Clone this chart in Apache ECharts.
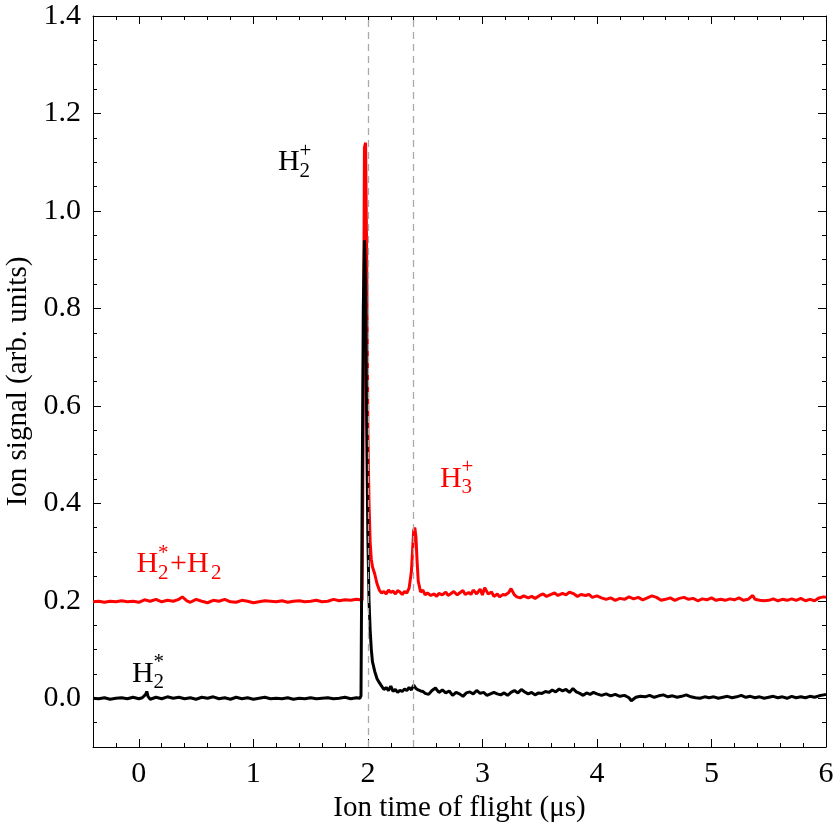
<!DOCTYPE html>
<html>
<head>
<meta charset="utf-8">
<script src="https://cdn.jsdelivr.net/npm/echarts@6/dist/echarts.min.js"></script>
<style>
  html, body { margin: 0; padding: 0; background: #fff; }
  #chart { width: 834px; height: 834px; }
</style>
</head>
<body>
<div id="chart"></div>
<script>
// tick positions
var xMajor = [0, 1, 2, 3, 4, 5, 6];
var xMinor = [-0.2, 0.2, 0.4, 0.6, 0.8, 1.2, 1.4, 1.6, 1.8, 2.2, 2.4, 2.6, 2.8, 3.2, 3.4, 3.6, 3.8,
  4.2, 4.4, 4.6, 4.8, 5.2, 5.4, 5.6, 5.8];
var yMajor = [0, 0.2, 0.4, 0.6, 0.8, 1.0, 1.2, 1.4];
var yMinor = [-0.05, 0.05, 0.1, 0.15, 0.25, 0.3, 0.35, 0.45, 0.5, 0.55, 0.65, 0.7, 0.75,
  0.85, 0.9, 0.95, 1.05, 1.1, 1.15, 1.25, 1.3, 1.35];
// dashed marker positions (us)
var markerT = [2.0, 2.4];

// H2* + H2 trace (red)
var redT = [-0.40, -0.35, -0.30, -0.25, -0.20, -0.15, -0.10, -0.05, 0.00, 0.05, 0.10, 0.15, 0.20, 0.25, 0.30,
  0.35, 0.38, 0.42, 0.45, 0.50, 0.55, 0.60, 0.65, 0.70, 0.75, 0.80, 0.85, 0.90, 0.95, 1.00, 1.05, 1.10,
  1.15, 1.20, 1.25, 1.30, 1.35, 1.40, 1.45, 1.50, 1.55, 1.60, 1.65, 1.70, 1.75, 1.80, 1.85, 1.90, 1.93,
  1.95, 1.96, 1.97, 1.98, 1.99, 2.00, 2.01, 2.02, 2.03, 2.04, 2.06, 2.08, 2.10, 2.12, 2.14, 2.16, 2.18,
  2.20, 2.22, 2.24, 2.26, 2.28, 2.30, 2.32, 2.34, 2.36, 2.38, 2.40, 2.41, 2.42, 2.43, 2.44, 2.46, 2.48,
  2.50, 2.52, 2.55, 2.58, 2.60, 2.62, 2.65, 2.68, 2.70, 2.72, 2.75, 2.78, 2.80, 2.83, 2.85, 2.88, 2.90,
  2.92, 2.95, 2.98, 3.00, 3.02, 3.05, 3.08, 3.10, 3.13, 3.15, 3.18, 3.20, 3.23, 3.25, 3.28, 3.30, 3.33,
  3.36, 3.40, 3.43, 3.46, 3.50, 3.53, 3.56, 3.60, 3.63, 3.66, 3.70, 3.73, 3.76, 3.80, 3.83, 3.86, 3.90,
  3.93, 3.96, 4.00, 4.04, 4.08, 4.12, 4.16, 4.20, 4.24, 4.28, 4.32, 4.36, 4.40, 4.44, 4.48, 4.52, 4.56,
  4.60, 4.64, 4.68, 4.72, 4.76, 4.80, 4.84, 4.88, 4.92, 4.96, 5.00, 5.04, 5.08, 5.12, 5.16, 5.20, 5.24,
  5.28, 5.32, 5.36, 5.38, 5.42, 5.46, 5.50, 5.54, 5.58, 5.62, 5.66, 5.70, 5.74, 5.78, 5.82, 5.86, 5.90,
  5.94, 5.98, 6.00];
var redY = [0.198, 0.199, 0.197, 0.199, 0.198, 0.200, 0.198, 0.199, 0.197, 0.202, 0.199, 0.203, 0.198, 0.201, 0.199,
  0.203, 0.208, 0.200, 0.197, 0.203, 0.199, 0.196, 0.201, 0.199, 0.203, 0.198, 0.197, 0.201, 0.199, 0.196, 0.198, 0.200,
  0.199, 0.198, 0.200, 0.197, 0.199, 0.200, 0.198, 0.199, 0.201, 0.198, 0.199, 0.203, 0.200, 0.202, 0.201, 0.203, 0.202,
  0.201, 0.600, 1.130, 1.140, 0.900, 0.550, 0.400, 0.320, 0.285, 0.270, 0.255, 0.235, 0.222, 0.216, 0.219, 0.214, 0.222,
  0.217, 0.220, 0.214, 0.221, 0.218, 0.213, 0.219, 0.216, 0.226, 0.260, 0.345, 0.350, 0.330, 0.280, 0.240, 0.218, 0.222,
  0.212, 0.216, 0.211, 0.214, 0.209, 0.215, 0.212, 0.218, 0.211, 0.214, 0.219, 0.212, 0.216, 0.221, 0.213, 0.217, 0.213,
  0.222, 0.214, 0.224, 0.212, 0.227, 0.214, 0.218, 0.209, 0.214, 0.208, 0.213, 0.212, 0.217, 0.225, 0.212, 0.208, 0.206,
  0.210, 0.206, 0.209, 0.205, 0.211, 0.214, 0.209, 0.213, 0.216, 0.211, 0.215, 0.212, 0.218, 0.214, 0.209, 0.213, 0.211,
  0.213, 0.207, 0.210, 0.206, 0.203, 0.206, 0.201, 0.205, 0.203, 0.208, 0.204, 0.207, 0.202, 0.206, 0.210, 0.207, 0.201,
  0.203, 0.206, 0.201, 0.205, 0.207, 0.203, 0.205, 0.200, 0.204, 0.202, 0.206, 0.201, 0.203, 0.201, 0.204, 0.202, 0.206,
  0.201, 0.203, 0.211, 0.203, 0.201, 0.200, 0.201, 0.204, 0.200, 0.203, 0.201, 0.204, 0.201, 0.205, 0.200, 0.203, 0.200,
  0.206, 0.208, 0.207];

// H2* trace (black)
var blackT = [-0.40, -0.35, -0.30, -0.25, -0.20, -0.15, -0.10, -0.05, 0.00, 0.03, 0.06, 0.07, 0.08, 0.10, 0.15,
  0.20, 0.25, 0.30, 0.35, 0.40, 0.45, 0.50, 0.55, 0.60, 0.65, 0.70, 0.75, 0.80, 0.85, 0.90, 0.95, 1.00,
  1.05, 1.10, 1.15, 1.20, 1.25, 1.30, 1.35, 1.40, 1.45, 1.50, 1.55, 1.60, 1.65, 1.70, 1.75, 1.80, 1.85,
  1.90, 1.93, 1.94, 1.95, 1.96, 1.97, 1.98, 1.99, 2.00, 2.01, 2.02, 2.03, 2.04, 2.06, 2.08, 2.10, 2.12,
  2.14, 2.16, 2.18, 2.20, 2.22, 2.24, 2.26, 2.28, 2.30, 2.32, 2.34, 2.36, 2.38, 2.40, 2.42, 2.44, 2.46,
  2.48, 2.50, 2.53, 2.56, 2.59, 2.62, 2.65, 2.68, 2.71, 2.74, 2.77, 2.80, 2.83, 2.86, 2.89, 2.92, 2.95,
  2.98, 3.01, 3.04, 3.07, 3.10, 3.13, 3.16, 3.19, 3.22, 3.25, 3.28, 3.31, 3.34, 3.37, 3.40, 3.43, 3.46,
  3.49, 3.52, 3.55, 3.58, 3.61, 3.64, 3.67, 3.70, 3.73, 3.76, 3.79, 3.82, 3.85, 3.88, 3.91, 3.94, 3.97,
  4.00, 4.04, 4.08, 4.12, 4.16, 4.20, 4.24, 4.28, 4.30, 4.34, 4.38, 4.42, 4.46, 4.50, 4.54, 4.58, 4.62,
  4.66, 4.70, 4.74, 4.78, 4.82, 4.86, 4.90, 4.94, 4.98, 5.02, 5.06, 5.10, 5.14, 5.18, 5.22, 5.26, 5.30,
  5.34, 5.38, 5.42, 5.46, 5.50, 5.54, 5.58, 5.62, 5.66, 5.70, 5.74, 5.78, 5.82, 5.86, 5.90, 5.94, 5.98,
  6.00];
var blackY = [0.000, -0.001, 0.001, -0.002, 0.000, 0.001, -0.001, 0.002, -0.001, 0.001, 0.008, 0.014, 0.004, -0.002, 0.002,
  -0.001, 0.003, 0.000, 0.002, -0.001, 0.001, -0.002, 0.002, 0.000, 0.003, -0.001, 0.001, -0.002, 0.002, -0.001, 0.001, -0.002,
  0.000, 0.002, -0.001, 0.000, -0.001, 0.001, -0.002, 0.000, -0.001, 0.001, -0.001, 0.000, 0.001, -0.001, 0.000, 0.002, -0.001,
  0.001, 0.000, 0.005, 0.400, 0.800, 0.940, 0.850, 0.550, 0.330, 0.200, 0.140, 0.100, 0.075, 0.055, 0.040, 0.032, 0.025,
  0.018, 0.022, 0.016, 0.025, 0.014, 0.018, 0.012, 0.016, 0.014, 0.019, 0.016, 0.022, 0.017, 0.027, 0.020, 0.017, 0.015,
  0.014, 0.010, 0.008, 0.016, 0.021, 0.012, 0.017, 0.011, 0.015, 0.006, 0.012, 0.009, 0.004, 0.011, 0.013, 0.009, 0.016,
  0.010, 0.012, 0.006, 0.009, 0.012, 0.009, 0.007, 0.011, 0.006, 0.012, 0.016, 0.011, 0.018, 0.013, 0.009, 0.012, 0.007,
  0.011, 0.010, 0.014, 0.012, 0.017, 0.013, 0.019, 0.015, 0.018, 0.012, 0.020, 0.013, 0.010, 0.006, 0.011, 0.008, 0.012,
  0.009, 0.006, 0.009, 0.005, 0.008, 0.004, 0.006, 0.001, -0.005, 0.002, 0.004, 0.003, 0.006, 0.002, 0.005, 0.007, 0.003,
  0.005, 0.002, 0.004, 0.007, 0.003, 0.001, 0.000, 0.003, 0.001, 0.003, 0.000, 0.002, 0.004, 0.001, 0.003, 0.006, 0.002,
  0.004, 0.001, 0.003, 0.000, 0.002, 0.004, 0.001, 0.003, 0.000, 0.004, 0.001, 0.003, 0.001, 0.004, 0.002, 0.005, 0.007,
  0.008];

var FONT = '"Liberation Serif", "Times New Roman", serif';

function pairs(t, y) {
  return t.map(function (v, i) { return [v, y[i]]; });
}

var chart = echarts.init(document.getElementById('chart'));

function xAx(pos, ticks, len, showLine, showLabel) {
  return {
    type: 'value', min: -0.4, max: 6, position: pos,
    axisLine: { show: showLine, onZero: false, lineStyle: { color: '#000', width: 1 } },
    axisTick: { inside: true, length: len, customValues: ticks, lineStyle: { color: '#000', width: 1 } },
    axisLabel: { show: showLabel, customValues: ticks, margin: 12, color: '#000', fontFamily: FONT, fontSize: 30 },
    splitLine: { show: false }
  };
}
function yAx(pos, ticks, len, showLine, showLabel) {
  return {
    type: 'value', min: -0.1, max: 1.4, position: pos,
    axisLine: { show: showLine, onZero: false, lineStyle: { color: '#000', width: 1 } },
    axisTick: { inside: true, length: len, customValues: ticks, lineStyle: { color: '#000', width: 1 } },
    axisLabel: { show: showLabel, customValues: ticks, margin: 12, color: '#000', fontFamily: FONT, fontSize: 30,
      formatter: function (v) { return v.toFixed(1); } },
    splitLine: { show: false }
  };
}

var xAxes = [
  xAx('bottom', xMajor, 8, true, true),
  xAx('bottom', xMinor, 4, false, false),
  xAx('top', xMajor, 8, true, false),
  xAx('top', xMinor, 4, false, false)
];
xAxes[0].name = 'Ion time of flight (\u03bcs)';
xAxes[0].nameLocation = 'middle';
xAxes[0].nameGap = 39;
xAxes[0].nameTextStyle = { color: '#000', fontFamily: FONT, fontSize: 29 };

var yAxes = [
  yAx('left', yMajor, 8, true, true),
  yAx('left', yMinor, 4, false, false),
  yAx('right', yMajor, 8, true, false),
  yAx('right', yMinor, 4, false, false)
];
yAxes[0].name = 'Ion signal (arb. units)';
yAxes[0].nameLocation = 'middle';
yAxes[0].nameGap = 59;
yAxes[0].nameTextStyle = { color: '#000', fontFamily: FONT, fontSize: 29 };

chart.setOption({
  animation: false,
  backgroundColor: '#fff',
  grid: { left: 93, right: 8, top: 16, bottom: 87, outerBoundsMode: 'none' },
  xAxis: xAxes,
  yAxis: yAxes,
  series: [
    {
      type: 'line', data: [], z: 1, silent: true,
      markLine: {
        silent: true, symbol: 'none', label: { show: false },
        lineStyle: { color: '#aaa', type: [7, 5], width: 1.3 },
        data: markerT.map(function (t) { return { xAxis: t }; })
      }
    },
    {
      name: 'H2*+H2', type: 'line', data: pairs(redT, redY), z: 2,
      showSymbol: false, lineStyle: { color: '#ff0000', width: 3 }
    },
    {
      name: 'H2*', type: 'line', data: pairs(blackT, blackY), z: 3,
      showSymbol: false, lineStyle: { color: '#000', width: 3 }
    }
  ]
});

// molecule labels with stacked sub/superscripts
function molLabel(t, v, parts, color) {
  var p = chart.convertToPixel({ xAxisIndex: 0, yAxisIndex: 0 }, [t, v]);
  var children = [];
  var x = 0;
  parts.forEach(function (pt) {
    var base = pt[0], sub = pt[1], sup = pt[2];
    children.push({ type: 'text', x: x, y: 0,
      style: { text: base, font: '30px ' + FONT, fill: color, verticalAlign: 'middle' } });
    x += base.length * 21.5 - (base[0] === '+' ? 2 : 0);
    var w = 0;
    if (sub) {
      children.push({ type: 'text', x: x, y: 9,
        style: { text: sub, font: '21px ' + FONT, fill: color, verticalAlign: 'middle' } });
      w = 11;
    }
    if (sup) {
      children.push({ type: 'text', x: x, y: -11,
        style: { text: sup, font: '21px ' + FONT, fill: color, verticalAlign: 'middle' } });
      w = Math.max(w, 12);
    }
    x += w;
  });
  return { type: 'group', x: p[0], y: p[1], children: children };
}

chart.setOption({
  graphic: [
    molLabel(1.215, 1.10, [['H', '2', '+']], '#000'),
    molLabel(2.63, 0.45, [['H', '3', '+']], '#ff0000'),
    molLabel(-0.02, 0.275, [['H', '2', '*'], ['+H', '2', null]], '#ff0000'),
    molLabel(-0.06, 0.05, [['H', '2', '*']], '#000')
  ]
});
</script>
</body>
</html>
